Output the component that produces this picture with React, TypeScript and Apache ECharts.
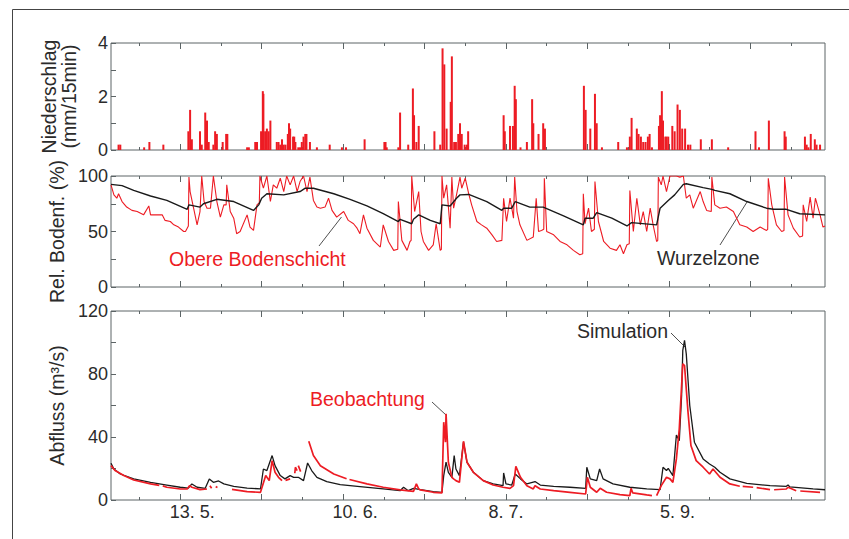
import React, { useEffect, useRef } from 'react';
import * as echarts from 'echarts';

// ---------- axis / tick data (x in days from the left edge of the plots) ----------
const X_MIN = 0;
const X_MAX = 122.75;
const majorTickDays = [11.91, 25.91, 39.91, 53.91, 67.91, 81.91, 95.91, 109.91];
const minorTickDays = [4.91, 18.91, 32.91, 46.91, 60.91, 74.91, 88.91, 102.91, 116.91];
const dateLabelDays = [13.96, 41.97, 67.9, 97.4];
const dateLabels = ['13. 5.', '10. 6.', '8. 7.', '5. 9.'];

// ---------- Niederschlag (mm/15min) ----------
const rain: [number, number][] = [
  [1.3, 0.2], [1.6, 0.2], [5.7, 0.1], [6.6, 0.3], [9.0, 0.2], [13.3, 0.7], [13.6, 1.5], [13.9, 0.4],
  [15.3, 0.7], [15.6, 0.2], [16.2, 1.4], [16.5, 1.1], [16.8, 0.3], [17.6, 0.2], [17.9, 0.7], [18.2, 0.6],
  [19.2, 0.3], [19.8, 0.6], [20.0, 0.6], [23.4, 0.1], [23.7, 0.1], [24.8, 0.3], [25.1, 0.3], [25.8, 0.7],
  [26.1, 2.2], [26.2, 2.1], [26.5, 0.7], [26.8, 0.8], [27.1, 0.7], [27.4, 1.1], [28.5, 0.3], [28.8, 0.3],
  [29.1, 0.2], [29.4, 0.4], [29.7, 0.2], [30.0, 0.2], [30.4, 0.6], [30.6, 1.0], [30.8, 0.8], [31.3, 0.5],
  [31.5, 0.5], [31.7, 0.3], [32.2, 0.1], [32.5, 0.1], [32.8, 0.3], [33.1, 0.5], [33.4, 0.6], [33.6, 0.6],
  [34.2, 0.3], [35.4, 0.1], [37.6, 0.2], [39.7, 0.1], [40.4, 0.1], [43.6, 0.4], [47.0, 0.3], [47.2, 0.3],
  [47.4, 0.1], [49.4, 0.1], [49.7, 1.4], [51.1, 0.2], [51.9, 2.3], [52.1, 1.3], [52.5, 0.3], [52.9, 0.9],
  [55.6, 0.7], [56.6, 0.2], [57.0, 3.8], [57.3, 3.2], [57.7, 0.8], [58.4, 1.8], [58.6, 3.5], [59.0, 0.3],
  [59.3, 0.3], [59.7, 0.6], [60.0, 1.0], [60.3, 0.6], [60.8, 0.2], [61.2, 0.2], [61.4, 0.7], [67.5, 1.3],
  [67.7, 0.7], [68.6, 0.9], [69.1, 0.9], [69.4, 2.4], [69.6, 1.9], [70.4, 0.1], [71.5, 0.3], [72.4, 1.9],
  [72.6, 1.0], [73.5, 0.6], [74.3, 1.0], [74.6, 0.8], [81.3, 2.4], [81.6, 1.5], [82.4, 0.8], [83.2, 2.1],
  [83.5, 1.0], [84.4, 0.1], [87.2, 0.3], [88.7, 0.1], [89.2, 0.5], [89.5, 1.2], [90.4, 0.8], [90.7, 0.6],
  [91.1, 0.5], [91.5, 0.3], [91.9, 0.3], [92.3, 0.5], [92.6, 0.6], [93.0, 0.1], [94.2, 0.9], [94.4, 1.3],
  [94.7, 2.2], [94.9, 1.1], [95.3, 0.5], [95.5, 0.5], [95.8, 0.5], [96.5, 0.9], [96.9, 0.7], [97.4, 1.7],
  [97.8, 1.5], [98.2, 0.8], [98.7, 0.8], [99.2, 0.2], [99.6, 0.2], [101.4, 0.4], [103.3, 0.4], [106.1, 0.1],
  [110.8, 0.7], [111.4, 0.1], [113.1, 1.1], [115.8, 0.7], [116.0, 0.5], [119.3, 0.5], [119.6, 0.2],
  [119.9, 0.1], [120.3, 0.6], [121.0, 0.4], [121.3, 0.2], [121.9, 0.2],
];

// ---------- Rel. Bodenfeuchte (%) ----------
const soilUpper: [number, number][] = [
  [0, 92], [0.5, 83], [1.0, 80], [1.3, 84], [1.9, 77], [2.7, 72], [3.6, 69], [4.5, 68], [5.6, 65], [6.5, 73],
  [6.8, 65], [7.9, 65], [8.8, 65], [9.3, 60], [10.2, 59], [10.8, 56], [11.6, 54], [12.5, 50], [12.8, 50],
  [13.1, 53], [13.3, 55], [13.4, 99], [13.6, 86], [14.2, 71], [14.8, 56], [15.3, 68], [15.6, 100], [16.0, 77],
  [16.5, 71], [17.1, 71], [17.6, 100], [18.2, 77], [18.8, 63], [19.4, 74], [19.8, 74], [19.9, 92], [20.5, 68],
  [21.1, 62], [21.6, 48], [22.2, 50], [23.4, 65], [23.9, 54], [24.5, 51], [25.1, 74], [25.5, 76], [25.6, 100],
  [26.2, 89], [26.8, 100], [27.4, 77], [27.9, 92], [28.5, 89], [29.1, 98], [29.7, 86], [30.2, 100], [30.8, 92],
  [31.4, 100], [32.0, 86], [32.5, 95], [33.1, 100], [33.7, 86], [34.2, 99], [34.8, 78], [35.4, 72], [36.0, 71],
  [36.8, 72], [37.4, 80], [38.0, 69], [38.8, 63], [40.0, 68], [40.8, 60], [41.7, 57], [42.3, 53], [42.8, 48],
  [43.4, 65], [44.0, 53], [45.1, 42], [46.3, 36], [46.8, 56], [47.7, 41], [48.6, 33], [49.3, 34], [49.4, 77],
  [50.0, 42], [50.9, 33], [51.4, 41], [51.6, 42], [51.7, 100], [52.2, 68], [52.9, 86], [53.3, 50], [53.7, 41],
  [54.6, 33], [55.4, 38], [55.9, 57], [56.6, 33], [56.8, 34], [56.9, 100], [57.2, 80], [57.7, 92], [58.3, 53],
  [58.6, 99], [58.9, 71], [59.4, 83], [60.0, 99], [60.3, 89], [60.9, 98], [61.5, 84], [62.0, 74], [62.9, 59],
  [63.7, 56], [64.6, 53], [65.5, 47], [66.3, 41], [67.2, 42], [67.5, 80], [68.0, 59], [68.6, 80], [69.2, 62],
  [69.4, 99], [69.8, 68], [70.3, 56], [71.5, 42], [72.6, 45], [73.1, 80], [73.5, 50], [74.0, 51], [74.4, 52],
  [74.5, 98], [74.9, 50], [76.1, 47], [77.2, 41], [78.4, 38], [79.5, 33], [80.6, 29], [81.1, 30], [81.2, 84],
  [81.5, 57], [82.1, 71], [82.6, 50], [83.1, 52], [83.2, 95], [83.8, 59], [84.7, 41], [85.8, 35], [86.9, 33],
  [87.5, 38], [88.1, 30], [88.7, 38], [89.1, 39], [89.2, 87], [89.8, 50], [90.4, 80], [91.0, 56], [91.5, 68],
  [92.1, 50], [92.7, 71], [93.2, 56], [93.8, 41], [94.0, 42], [94.1, 99], [94.6, 92], [94.9, 100], [95.5, 86],
  [96.1, 100], [97.2, 100], [97.8, 99], [98.4, 100], [98.9, 80], [99.5, 83], [100.1, 71], [101.3, 86],
  [101.8, 77], [102.4, 69], [103.2, 68], [103.3, 99], [103.8, 74], [104.7, 71], [105.8, 72], [107.0, 68],
  [108.1, 56], [109.3, 54], [110.4, 50], [111.6, 54], [112.7, 51], [112.9, 52], [113.0, 98], [113.6, 74],
  [114.4, 56], [115.3, 50], [115.7, 51], [115.8, 99], [116.4, 65], [117.3, 53], [118.4, 45], [118.9, 46],
  [119.0, 74], [119.6, 59], [120.2, 81], [120.7, 62], [121.1, 80], [121.9, 65], [122.4, 54], [122.75, 55],
];
const soilRoot: [number, number][] = [
  [0, 92.5], [1.9, 91.3], [3.9, 87], [6.8, 82], [9.6, 78], [13.1, 70], [13.4, 74], [15.3, 72], [15.9, 75],
  [18.2, 79], [21.1, 77], [24.5, 69], [25.4, 74], [25.9, 80], [26.8, 84], [29.7, 83], [32.5, 86], [33.4, 89],
  [34.8, 89], [38.3, 84], [41.1, 79], [44.0, 73], [46.8, 66], [49.4, 59], [49.7, 61], [51.7, 57], [52.0, 61],
  [52.9, 65], [54.9, 60], [56.6, 57], [56.9, 74], [58.3, 73], [59.4, 80], [60.0, 83], [61.5, 83.4], [64.6, 77],
  [67.2, 69], [67.5, 71], [68.9, 71], [69.5, 77], [72.0, 72], [74.3, 72], [77.8, 64], [81.2, 56], [81.5, 62],
  [82.9, 62], [83.5, 67], [86.1, 62], [88.7, 55], [89.5, 58], [93.8, 56], [94.4, 71], [95.8, 78], [96.9, 83],
  [98.4, 92.5], [98.9, 93], [101.8, 89.5], [103.3, 88], [103.8, 87], [106.4, 84], [109.3, 77], [112.7, 71],
  [113.9, 70], [116.1, 70], [118.4, 66], [122.75, 65],
];

// ---------- Abfluss (m3/s) ----------
const flowSim: [number, number][] = [
  [0, 23.3], [0.5, 19.7], [1.6, 16.5], [3.9, 13.4], [6.8, 11.2], [9.6, 9.5], [11.9, 8.1], [13.3, 7.6],
  [13.9, 10.2], [14.8, 8.1], [16.2, 7.4], [16.9, 13.4], [17.6, 11.2], [18.5, 12.1], [19.4, 10.2], [21.1, 8.7],
  [23.4, 7.6], [25.7, 7.0], [26.2, 19.7], [26.8, 18.7], [27.7, 28.2], [28.2, 21.8], [29.1, 15.5], [29.9, 13.4],
  [30.8, 15.5], [31.4, 14.4], [32.2, 14.4], [33.1, 12.3], [33.8, 23.5], [34.5, 18.7], [35.4, 14.4],
  [37.1, 11.7], [39.4, 9.8], [42.8, 8.5], [46.8, 7.0], [49.7, 5.9], [50.3, 8.1], [51.1, 5.9], [52.0, 7.4],
  [53.2, 6.6], [55.4, 5.3], [56.9, 4.9], [57.2, 15.5], [57.6, 24.0], [58.0, 17.6], [58.6, 14.4], [59.0, 28.2],
  [59.3, 19.7], [59.9, 15.5], [60.6, 36.7], [61.2, 24.0], [62.3, 17.6], [64.0, 12.3], [65.7, 10.2],
  [67.4, 9.1], [67.5, 17.2], [67.9, 10.2], [68.9, 9.5], [69.5, 16.5], [70.4, 13.4], [71.5, 10.2],
  [72.9, 11.7], [73.8, 9.5], [76.1, 8.7], [78.9, 8.1], [81.6, 7.4], [81.8, 20.8], [82.4, 13.4], [83.5, 12.3],
  [84.0, 19.7], [84.6, 13.4], [86.3, 10.2], [89.2, 8.1], [92.1, 7.0], [94.4, 6.6], [94.9, 20.8], [95.5, 18.7],
  [95.8, 20.1], [96.6, 15.5], [97.2, 41.3], [97.7, 37.7], [98.1, 66.4], [98.3, 95.0], [98.6, 101.3],
  [98.9, 92.8], [99.5, 60.0], [100.3, 36.7], [101.8, 26.1], [102.9, 22.9], [103.8, 20.8], [104.7, 17.6],
  [106.4, 13.4], [109.3, 10.6], [113.3, 9.1], [116.1, 8.7], [116.4, 9.5], [116.7, 8.3], [120.7, 7.0],
  [122.75, 6.5],
];
const flowObs: [number, number | null][] = [
  [0, 21.8], [0.7, 18.7], [2.2, 15.5], [3.9, 12.7], [6.8, 10.2], [8.3, 9.3], [8.5, null], [8.9, 9.0],
  [9.6, 8.1], [11.9, 7.0], [13.1, 7.0], [13.5, 9.1], [13.9, 8.1], [15.3, 6.6], [16.5, 7.0], [16.8, null],
  [17.0, 9.1], [17.3, 7.5], [17.5, null], [18.0, 8.5], [18.3, 8.0], [18.5, null], [20.8, 6.8], [23.4, 5.3],
  [25.7, 4.9], [26.6, 15.5], [27.2, 12.3], [27.7, 25.0], [28.2, 17.6], [28.8, 14.4], [29.4, 12.3],
  [29.6, null], [30.0, 12.5], [30.8, 13.4], [31.5, null], [31.6, 17.0], [31.7, 20.8], [32.0, 18.7],
  [32.1, null], [32.2, 21.8], [32.6, 18.0], [32.8, null], [34.0, 37.3], [34.8, 28.2], [36.0, 21.8],
  [38.3, 16.5], [40.5, 13.5], [40.7, null], [41.0, 13.0], [44.0, 10.2], [46.8, 8.1], [49.7, 6.4],
  [52.0, 5.5], [52.5, 10.2], [52.9, 7.0], [53.2, 6.4], [55.4, 4.9], [56.9, 4.5], [57.2, 49.4], [57.5, 36.7],
  [57.6, 54.7], [58.0, 24.0], [58.6, 14.4], [58.9, 13.4], [59.3, 12.3], [59.9, 11.2], [60.6, 37.3],
  [61.2, 24.0], [62.3, 17.6], [64.0, 12.3], [65.7, 9.5], [67.4, 8.1], [68.6, 7.4], [69.2, 9.1], [69.6, 21.4],
  [70.4, 14.4], [71.5, 9.1], [72.6, 7.0], [72.9, 9.1], [73.8, 7.0], [76.1, 5.9], [78.9, 4.9], [81.6, 3.8],
  [81.9, 14.4], [82.4, 8.1], [83.5, 4.9], [84.1, 7.4], [85.2, 4.9], [87.5, 3.4], [89.2, 2.8], [89.4, 7.4],
  [89.7, 4.5], [92.1, 3.2], [93.0, 2.8], [93.2, null], [93.8, 2.8], [94.6, 9.1], [95.5, 14.4], [96.1, 13.4],
  [96.6, 11.2], [97.2, 26.1], [97.7, 45.2], [98.3, 86.5], [98.6, 85.4], [99.2, 55.8], [99.7, 34.6],
  [100.6, 25.0], [101.8, 20.8], [102.9, 16.5], [103.5, 19.7], [104.7, 14.4], [106.4, 10.2], [108.1, 8.7],
  [108.3, null], [108.6, 8.6], [110.4, 8.1], [110.6, null], [111.0, 7.8], [113.3, 6.6], [113.5, null],
  [114.0, 6.5], [116.1, 7.0], [116.4, 8.1], [117.8, 5.9], [118.0, null], [118.5, 5.7], [121.9, 4.9],
];

const RED = '#ed1c24';
const INK = '#2b2b2b';
const AXC = '#5c6466';
const FONT = '"Liberation Sans", Arial, Helvetica, sans-serif';

export default function App() {
  const ref = useRef<HTMLDivElement>(null);
  useEffect(() => {
    if (!ref.current) return;
    const chart = echarts.init(ref.current, undefined, { renderer: 'svg' });

    const grids = [
      { left: 111, top: 43, width: 714, height: 107 },
      { left: 111, top: 176, width: 714, height: 111 },
      { left: 111, top: 311, width: 714, height: 189 },
    ].map((g) => ({ ...g, show: true, borderColor: AXC, borderWidth: 1, backgroundColor: 'transparent' }));

    const xAxes: any[] = [];
    grids.forEach((_, gi) => {
      const base = (pos: string, ticks: number[], len: number, withLabels: boolean) => ({
        type: 'value', gridIndex: gi, position: pos, min: X_MIN, max: X_MAX,
        axisLine: { show: false }, splitLine: { show: false },
        axisTick: { show: true, inside: true, length: len, customValues: ticks, lineStyle: { color: AXC, width: 1 } },
        axisLabel: withLabels
          ? {
              show: true, customValues: dateLabelDays, margin: 3, color: INK, fontSize: 18, fontFamily: FONT,
              formatter: (v: number) => {
                const i = dateLabelDays.findIndex((d) => Math.abs(d - v) < 0.01);
                return i >= 0 ? dateLabels[i] : '';
              },
            }
          : { show: false },
      });
      xAxes.push(base('bottom', majorTickDays, 6, gi === 2));
      xAxes.push(base('top', majorTickDays, 6, false));
      xAxes.push(base('bottom', minorTickDays, 3, false));
      xAxes.push(base('top', minorTickDays, 3, false));
    });

    const yBase = (gi: number, max: number, interval: number, labelStep: number, name: string, nameGap: number) => ({
      type: 'value', gridIndex: gi, min: 0, max, interval,
      axisLine: { show: false }, splitLine: { show: false },
      axisTick: { show: true, inside: true, length: 5, lineStyle: { color: AXC, width: 1 } },
      axisLabel: {
        margin: 3, color: INK, fontSize: 18, fontFamily: FONT,
        formatter: (v: number) => (Math.round(v) % labelStep === 0 ? String(v) : ''),
      },
      name, nameLocation: 'middle', nameRotate: 90, nameGap,
      nameTextStyle: { color: INK, fontSize: 19.5, fontFamily: FONT, lineHeight: 20 },
    });

    const yAxes = [
      yBase(0, 4, 1, 2, 'Niederschlag\n(mm/15min)', 32),
      yBase(1, 100, 25, 50, 'Rel. Bodenf. (%)', 44),
      yBase(2, 120, 20, 40, 'Abfluss (m³/s)', 44),
    ];

    const lineTxt = (text: string, x: number, y: number, fill: string) => ({
      type: 'text', x, y, silent: true,
      style: { text, fill, fontSize: 19.5, fontFamily: FONT, align: 'left', verticalAlign: 'middle' },
    });
    const leader = (x1: number, y1: number, x2: number, y2: number) => ({
      type: 'line', silent: true, shape: { x1, y1, x2, y2 }, style: { stroke: '#222', lineWidth: 0.8 },
    });

    chart.setOption({
      animation: false,
      backgroundColor: '#ffffff',
      textStyle: { fontFamily: FONT },
      grid: grids,
      xAxis: xAxes,
      yAxis: yAxes,
      series: [
        {
          type: 'bar', name: 'Niederschlag', xAxisIndex: 0, yAxisIndex: 0, data: rain,
          barWidth: 2, itemStyle: { color: RED }, silent: true,
        },
        {
          type: 'line', name: 'Obere Bodenschicht', xAxisIndex: 4, yAxisIndex: 1, data: soilUpper,
          showSymbol: false, symbol: 'none', lineStyle: { color: RED, width: 1.1 }, silent: true,
        },
        {
          type: 'line', name: 'Wurzelzone', xAxisIndex: 4, yAxisIndex: 1, data: soilRoot,
          showSymbol: false, symbol: 'none', lineStyle: { color: '#1a1a1a', width: 1.4 }, silent: true,
        },
        {
          type: 'line', name: 'Simulation', xAxisIndex: 8, yAxisIndex: 2, data: flowSim,
          showSymbol: false, symbol: 'none', lineStyle: { color: '#1a1a1a', width: 1.3 }, silent: true,
        },
        {
          type: 'line', name: 'Beobachtung', xAxisIndex: 8, yAxisIndex: 2, data: flowObs, connectNulls: false,
          showSymbol: false, symbol: 'none', lineStyle: { color: RED, width: 1.7 }, silent: true,
        },
      ],
      graphic: [
        { type: 'line', silent: true, shape: { x1: 12.5, y1: 9.5, x2: 12.5, y2: 539 }, style: { stroke: '#444', lineWidth: 1 } },
        { type: 'line', silent: true, shape: { x1: 12.5, y1: 9.5, x2: 849, y2: 9.5 }, style: { stroke: '#444', lineWidth: 1 } },
        lineTxt('Obere Bodenschicht', 169, 259, RED),
        leader(319, 246, 341.5, 217),
        lineTxt('Wurzelzone', 657, 258, INK),
        leader(720, 245, 747, 202),
        lineTxt('Simulation', 577, 331, INK),
        leader(671, 333, 685, 347),
        lineTxt('Beobachtung', 310, 399, RED),
        leader(432, 402, 446, 415),
      ],
    });
    return () => chart.dispose();
  }, []);

  return <div ref={ref} style={{ position: 'fixed', left: 0, top: 0, width: 849, height: 539 }} />;
}
